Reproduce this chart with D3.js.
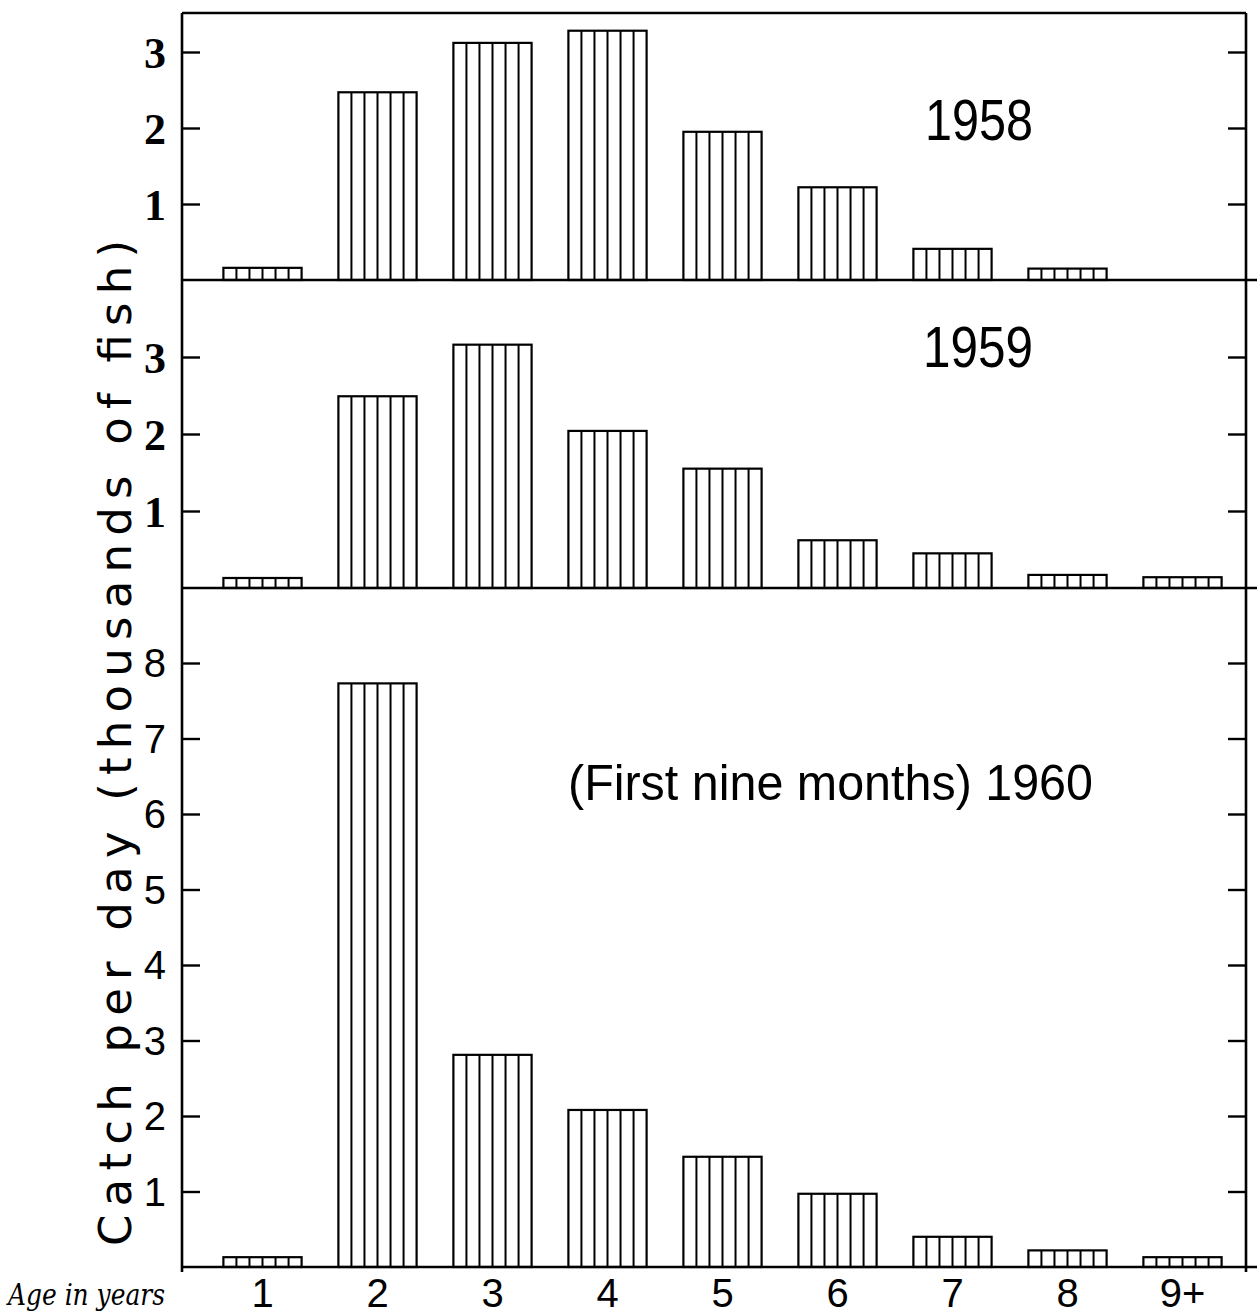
<!DOCTYPE html>
<html>
<head>
<meta charset="utf-8">
<script src="https://cdn.jsdelivr.net/npm/d3@7"></script>
<style>
  body { margin: 0; background: #fff; }
  svg { display: block; }
  .frame { stroke: #000; stroke-width: 2.6; fill: none; }
  .bar { stroke: #000; stroke-width: 2.2; fill: #fff; }
  .hatch { stroke: #000; stroke-width: 2; }
  .tick-label { font-family: "Liberation Serif", serif; font-weight: bold; font-size: 44px; }
  .tick-label-thin { font-family: "Liberation Sans", sans-serif; font-size: 40px; }
</style>
</head>
<body>
<div id="chart"></div>
<script>
// age classes along the bottom
const ages = ['1', '2', '3', '4', '5', '6', '7', '8', '9+'];

// catch per day, thousands of fish
const catch1958 = [0.16, 2.47, 3.12, 3.28, 1.95, 1.22, 0.41, 0.15, null];
const catch1959 = [0.13, 2.49, 3.16, 2.04, 1.55, 0.62, 0.45, 0.17, 0.14];
const catch1960 = [0.13, 7.73, 2.81, 2.08, 1.46, 0.97, 0.40, 0.22, 0.13];

const yearLabels = ['1958', '1959', '(First nine months) 1960'];
const ticksSmall = [1, 2, 3];
const ticksBig = [1, 2, 3, 4, 5, 6, 7, 8];

const chartW = 1257, chartH = 1314;
const frameLeft = 182, frameRight = 1246, frameTop = 13;

const svg = d3.select('#chart').append('svg')
    .attr('width', chartW)
    .attr('height', chartH);

const x = d3.scaleBand()
    .domain(ages)
    .range([205, 1240])
    .paddingInner(0.32)
    .paddingOuter(0.16);

// each panel: its own y scale and where its year label sits
const panels = [
  {data: catch1958, label: yearLabels[0], ticks: ticksSmall,
   y: d3.scaleLinear().domain([0, 3]).range([280, 52]),
   labelX: 925, labelY: 140, labelSize: 58, labelLen: 108, thin: false},
  {data: catch1959, label: yearLabels[1], ticks: ticksSmall,
   y: d3.scaleLinear().domain([0, 3]).range([588, 357]),
   labelX: 923, labelY: 367, labelSize: 58, labelLen: 110, thin: false},
  {data: catch1960, label: yearLabels[2], ticks: ticksBig,
   y: d3.scaleLinear().domain([0, 8]).range([1267, 663]),
   labelX: 568, labelY: 800, labelSize: 50, labelLen: 525, thin: true}
];

const nHatch = 5;

panels.forEach((p, pi) => {
  const g = svg.append('g');
  const base = p.y(0);

  const rows = ages.map((a, i) => ({age: a, value: p.data[i]})).filter(d => d.value != null);

  // bars
  g.selectAll('.bar')
      .data(rows)
    .join('rect')
      .attr('class', 'bar')
      .attr('x', d => x(d.age))
      .attr('y', d => p.y(d.value))
      .attr('width', x.bandwidth())
      .attr('height', d => base - p.y(d.value));

  // vertical hatching inside each bar
  const hatch = [];
  rows.forEach(d => {
    for (let k = 1; k <= nHatch; k++) {
      hatch.push({x: x(d.age) + k * x.bandwidth() / (nHatch + 1), value: d.value});
    }
  });
  g.selectAll('.hatch')
      .data(hatch)
    .join('line')
      .attr('class', 'hatch')
      .attr('x1', d => d.x).attr('x2', d => d.x)
      .attr('y1', d => p.y(d.value)).attr('y2', base);

  // baseline, runs a little past the right edge
  g.append('line').attr('class', 'frame')
      .attr('x1', frameLeft).attr('x2', chartW).attr('y1', base).attr('y2', base);

  // left axis, ticks pointing inward
  const yAxisL = d3.axisRight(p.y).tickValues(p.ticks).tickSize(18).tickFormat('');
  const gl = g.append('g').attr('transform', `translate(${frameLeft},0)`).call(yAxisL);
  gl.select('.domain').remove();
  gl.selectAll('line').attr('stroke', '#000').attr('stroke-width', 2.4);

  // right axis, ticks pointing inward
  const yAxisR = d3.axisLeft(p.y).tickValues(p.ticks).tickSize(18).tickFormat('');
  const gr = g.append('g').attr('transform', `translate(${frameRight},0)`).call(yAxisR);
  gr.select('.domain').remove();
  gr.selectAll('line').attr('stroke', '#000').attr('stroke-width', 2.4);

  // tick labels
  g.selectAll('.tick-label')
      .data(p.ticks)
    .join('text')
      .attr('class', p.thin ? 'tick-label-thin' : 'tick-label')
      .attr('x', 166)
      .attr('y', d => p.y(d))
      .attr('dy', '0.36em')
      .attr('text-anchor', 'end')
      .text(d => d);

  // year label, squeezed to the narrow lettering of the original
  g.append('text')
      .attr('x', p.labelX)
      .attr('y', p.labelY)
      .attr('font-family', 'Liberation Sans, sans-serif')
      .attr('font-size', p.labelSize)
      .attr('textLength', p.labelLen)
      .attr('lengthAdjust', 'spacingAndGlyphs')
      .text(p.label);
});

// outer frame: top, left, right
svg.append('line').attr('class', 'frame')
    .attr('x1', frameLeft).attr('x2', frameRight).attr('y1', frameTop).attr('y2', frameTop);
svg.append('line').attr('class', 'frame')
    .attr('x1', frameLeft).attr('x2', frameLeft).attr('y1', frameTop).attr('y2', 1272);
svg.append('line').attr('class', 'frame')
    .attr('x1', frameRight).attr('x2', frameRight).attr('y1', frameTop).attr('y2', 1272);

// x category labels
svg.selectAll('.age-label')
    .data(ages)
  .join('text')
    .attr('class', 'age-label')
    .attr('x', d => x(d) + x.bandwidth() / 2)
    .attr('y', 1307)
    .attr('text-anchor', 'middle')
    .attr('font-family', 'Liberation Sans, sans-serif')
    .attr('font-size', 40)
    .text(d => d);

svg.append('text')
    .attr('x', 8)
    .attr('y', 1305)
    .attr('font-family', 'DejaVu Serif, serif')
    .attr('font-style', 'italic')
    .attr('font-size', 30)
    .attr('textLength', 157)
    .attr('lengthAdjust', 'spacingAndGlyphs')
    .text('Age in years');

// y axis title
svg.append('text')
    .attr('transform', 'translate(131,1246) rotate(-90)')
    .attr('font-family', 'DejaVu Sans, sans-serif')
    .attr('font-size', 45)
    .attr('textLength', 1006)
    .attr('lengthAdjust', 'spacing')
    .text('Catch per day (thousands of fish)');
</script>
</body>
</html>
